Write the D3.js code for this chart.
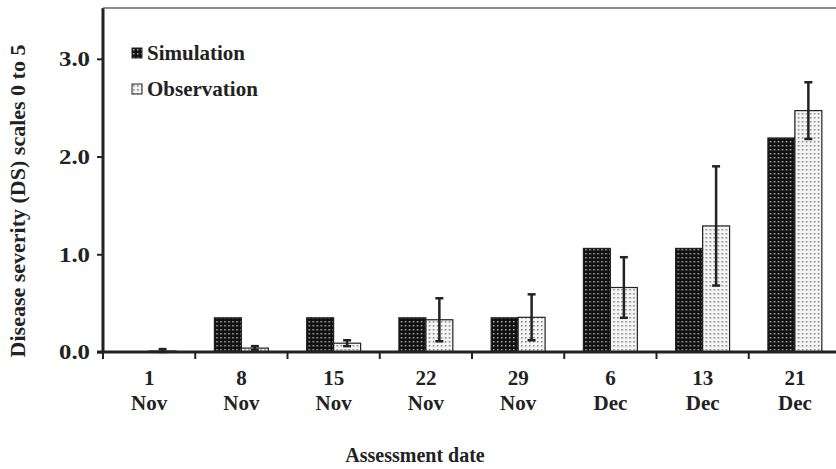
<!DOCTYPE html>
<html>
<head>
<meta charset="utf-8">
<script src="https://cdn.jsdelivr.net/npm/d3@7"></script>
<style>
  body { margin: 0; background: #fff; }
  text { font-family: "Liberation Serif", "Times New Roman", serif; font-weight: bold; fill: #222; }
</style>
</head>
<body>
<div class="chart"></div>
<script>
// Disease severity bar chart
let dayLabels = ["1", "8", "15", "22", "29", "6", "13", "21"];
let monthLabels = ["Nov", "Nov", "Nov", "Nov", "Nov", "Dec", "Dec", "Dec"];
let seriesNames = ["Simulation", "Observation"];
let simValues = [0, 0.35, 0.35, 0.35, 0.35, 1.06, 1.06, 2.19];
let obsValues = [0.01, 0.04, 0.09, 0.33, 0.355, 0.66, 1.29, 2.47];
let obsError = [0.02, 0.02, 0.03, 0.22, 0.235, 0.31, 0.61, 0.29];
let yTicks = [0, 1, 2, 3];

let svgWidth = 836;
let svgHeight = 469;

let margin = { top: 8, left: 103, bottom: 117 };
let plotRight = 841;
let height = svgHeight - margin.top - margin.bottom; // 344

let svg = d3.select(".chart")
  .append("svg")
  .attr("width", svgWidth)
  .attr("height", svgHeight);

let defs = svg.append("defs");

// dotted fills
let simPat = defs.append("pattern")
  .attr("id", "simFill")
  .attr("patternUnits", "userSpaceOnUse")
  .attr("width", 4).attr("height", 4);
simPat.append("rect").attr("width", 4).attr("height", 4).attr("fill", "#111");
simPat.append("rect").attr("x", 1).attr("y", 1).attr("width", 1.5).attr("height", 1.5).attr("fill", "#aaa");

let obsPat = defs.append("pattern")
  .attr("id", "obsFill")
  .attr("patternUnits", "userSpaceOnUse")
  .attr("width", 4).attr("height", 4);
obsPat.append("rect").attr("width", 4).attr("height", 4).attr("fill", "#f4f4f4");
obsPat.append("rect").attr("x", 1).attr("y", 1).attr("width", 1.6).attr("height", 1.6).attr("fill", "#8a8a8a");

let fills = { "Simulation": "url(#simFill)", "Observation": "url(#obsFill)" };

let data = dayLabels.map((d, i) => ({
  key: i,
  day: d,
  month: monthLabels[i],
  Simulation: simValues[i],
  Observation: obsValues[i],
  err: obsError[i]
}));

// scales
let x0 = d3.scaleBand()
  .domain(data.map(d => d.key))
  .range([margin.left, plotRight])
  .paddingInner(0)
  .paddingOuter(0);

let x1 = d3.scaleBand()
  .domain(seriesNames)
  .range([0, x0.bandwidth()])
  .paddingInner(0)
  .paddingOuter(0.71);

let y = d3.scaleLinear()
  .domain([0, 3.52])
  .range([margin.top + height, margin.top]);

let ink = "#222";

// bars
let groups = svg.append("g").selectAll("g")
  .data(data)
  .enter()
  .append("g")
  .attr("transform", d => `translate(${x0(d.key)},0)`);

groups.selectAll("rect")
  .data(d => seriesNames.map(s => ({ s: s, v: d[s] })))
  .enter()
  .append("rect")
  .attr("x", d => x1(d.s))
  .attr("y", d => y(d.v))
  .attr("width", x1.bandwidth())
  .attr("height", d => y(0) - y(d.v))
  .attr("fill", d => fills[d.s])
  .attr("stroke", ink)
  .attr("stroke-width", 1.2);

// error bars on observation
let errG = svg.append("g")
  .attr("stroke", ink)
  .attr("stroke-width", 2.5);

data.forEach(function (d) {
  let cx = x0(d.key) + x1("Observation") + x1.bandwidth() / 2;
  let lo = Math.max(0, d.Observation - d.err);
  let hi = d.Observation + d.err;
  errG.append("line").attr("x1", cx).attr("x2", cx).attr("y1", y(hi)).attr("y2", y(lo));
  errG.append("line").attr("x1", cx - 4).attr("x2", cx + 4).attr("y1", y(hi)).attr("y2", y(hi));
  errG.append("line").attr("x1", cx - 4).attr("x2", cx + 4).attr("y1", y(lo)).attr("y2", y(lo));
});

// y axis
let leftAxis = d3.axisLeft(y)
  .tickValues(yTicks)
  .tickFormat(d3.format(".1f"))
  .tickSize(6)
  .tickPadding(7);

let yAxis = svg.append("g")
  .attr("transform", `translate(${margin.left},0)`)
  .call(leftAxis);
yAxis.select(".domain").remove();
yAxis.selectAll(".tick line").attr("stroke", ink).attr("stroke-width", 2);
yAxis.selectAll(".tick text")
  .attr("font-size", "21px")
  .attr("font-family", "Liberation Serif, serif")
  .attr("font-weight", "bold")
  .attr("fill", ink)
  .attr("textLength", 31)
  .attr("lengthAdjust", "spacingAndGlyphs");

svg.append("line")
  .attr("x1", margin.left).attr("x2", margin.left)
  .attr("y1", margin.top).attr("y2", y(0) + 1)
  .attr("stroke", ink).attr("stroke-width", 3);

// top frame line
svg.append("line")
  .attr("x1", margin.left).attr("x2", svgWidth)
  .attr("y1", margin.top).attr("y2", margin.top)
  .attr("stroke", "#666").attr("stroke-width", 1.5);

// x axis line and ticks at category boundaries
svg.append("line")
  .attr("x1", margin.left - 6).attr("x2", svgWidth)
  .attr("y1", y(0)).attr("y2", y(0))
  .attr("stroke", ink).attr("stroke-width", 3);

svg.append("g").selectAll("line")
  .data(data)
  .enter()
  .append("line")
  .attr("x1", d => x0(d.key)).attr("x2", d => x0(d.key))
  .attr("y1", y(0)).attr("y2", y(0) + 7)
  .attr("stroke", ink).attr("stroke-width", 2);

// x labels
let xLab = svg.append("g").selectAll("text")
  .data(data)
  .enter()
  .append("text")
  .attr("text-anchor", "middle")
  .attr("font-size", "21px")
  .attr("x", d => x0(d.key) + x0.bandwidth() / 2);

xLab.append("tspan")
  .attr("x", d => x0(d.key) + x0.bandwidth() / 2)
  .attr("y", 385)
  .text(d => d.day);
xLab.append("tspan")
  .attr("x", d => x0(d.key) + x0.bandwidth() / 2)
  .attr("y", 410)
  .text(d => d.month);

// axis titles
svg.append("text")
  .attr("x", 415)
  .attr("y", 462)
  .attr("text-anchor", "middle")
  .attr("font-size", "20px")
  .text("Assessment date");

svg.append("text")
  .attr("transform", `translate(25, 201) rotate(-90)`)
  .attr("text-anchor", "middle")
  .attr("font-size", "22px")
  .text("Disease severity (DS) scales 0 to 5");

// legend
let legend = svg.append("g")
  .attr("transform", "translate(132, 48)");

let legendItems = legend.selectAll("g")
  .data(seriesNames)
  .enter()
  .append("g")
  .attr("transform", (d, i) => `translate(0, ${i * 36})`);

legendItems.append("rect")
  .attr("width", 10).attr("height", 10)
  .attr("fill", d => fills[d])
  .attr("stroke", ink).attr("stroke-width", 1);

legendItems.append("text")
  .attr("x", 15)
  .attr("y", 12)
  .attr("font-size", "21px")
  .text(d => d);
</script>
</body>
</html>
